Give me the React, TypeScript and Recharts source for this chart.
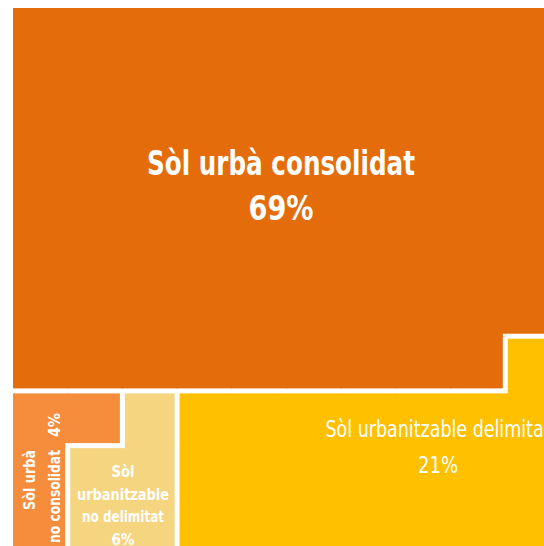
import { ScatterChart, Scatter, XAxis, YAxis } from 'recharts';

// land categories
const categoryKeys = ['C', 'N', 'U', 'D'];
const shares = [69, 4, 6, 21];
const colors = ['#E46C0A', '#F68D3C', '#F5D580', '#FFC000'];

// 10x10 waffle, one letter per square (C consolidat, N no consolidat,
// U urbanitzable no delimitat, D urbanitzable delimitat)
const gridRows = [
  'CCCCCCCCCC',
  'CCCCCCCCCC',
  'CCCCCCCCCC',
  'CCCCCCCCCC',
  'CCCCCCCCCC',
  'CCCCCCCCCC',
  'CCCCCCCCCD',
  'NNUDDDDDDD',
  'NUUDDDDDDD',
  'NUUDDDDDDD',
];

const CHART_W = 560;
const CHART_H = 555;
const MARGIN = { top: 8, right: 0, bottom: 0, left: 13 };
const CELL = (CHART_W - MARGIN.left - MARGIN.right) / 10;
const GAP = 5;
const FONT = "'Liberation Sans Narrow', 'DejaVu Sans Condensed', 'Noto Sans', sans-serif";

const colorOf = (k: string) => colors[categoryKeys.indexOf(k)];
const shareOf = (k: string) => shares[categoryKeys.indexOf(k)];

const cells = gridRows.flatMap((line, r) =>
  line.split('').map((k, c) => ({ col: c + 0.5, row: r + 0.5, r, c, k }))
);

// where each label sits, in grid units
const labelSpots: Record<string, { col: number; row: number }> = {
  C: { col: 4.9, row: 3.053 },
  D: { col: 7.77, row: 7.843 },
  U: { col: 2.011, row: 8.574 },
  N: { col: 0.402, row: 8.08 },
};
const labels = categoryKeys.map((k) => ({ ...labelSpots[k], k }));

function WaffleCell(props: any) {
  const { cx, cy, payload } = props;
  const { r, c, k } = payload;
  const at = (rr: number, cc: number) => gridRows[rr]?.[cc];
  const diff = (rr: number, cc: number) => {
    const o = at(rr, cc);
    return o !== undefined && o !== k;
  };
  const same = (rr: number, cc: number) => at(rr, cc) === k;
  const h = CELL / 2;
  const g = GAP / 2;
  const side = (rr: number, cc: number) => (diff(rr, cc) ? g : same(rr, cc) ? -0.5 : 0);
  const x1 = cx - h + side(r, c - 1);
  const x2 = cx + h - side(r, c + 1);
  const y1 = cy - h + side(r - 1, c);
  const y2 = cy + h - side(r + 1, c);
  // inner corners: only where both straight neighbours match but the diagonal one doesn't
  const corners = [
    [-1, -1],
    [-1, 1],
    [1, -1],
    [1, 1],
  ].filter(([dr, dc]) => diff(r + dr, c + dc) && !diff(r + dr, c) && !diff(r, c + dc));
  return (
    <g>
      <rect x={x1} y={y1} width={x2 - x1} height={y2 - y1} fill={colorOf(k)} />
      {corners.map(([dr, dc]) => (
        <rect
          key={`${dr}${dc}`}
          x={dc < 0 ? cx - h - 0.5 : cx + h - g}
          y={dr < 0 ? cy - h - 0.5 : cy + h - g}
          width={g + 0.5}
          height={g + 0.5}
          fill="#fff"
        />
      ))}
    </g>
  );
}

function LabelMark(props: any) {
  const { cx, cy, payload } = props;
  const k = payload.k;
  const pct = `${shareOf(k)}%`;
  const base = { fill: '#fff', fontFamily: FONT };
  if (k === 'C') {
    return (
      <g {...base} fontWeight="bold" fontSize={34} textAnchor="middle">
        <text x={cx} y={cy} textLength={268} lengthAdjust="spacingAndGlyphs">Sòl urbà consolidat</text>
        <text x={cx} y={cy + 45} textLength={65} lengthAdjust="spacingAndGlyphs">{pct}</text>
      </g>
    );
  }
  if (k === 'D') {
    return (
      <g {...base} fontSize={23} textAnchor="middle">
        <text x={cx} y={cy} textLength={225} lengthAdjust="spacingAndGlyphs">Sòl urbanitzable delimitat</text>
        <text x={cx} y={cy + 36} textLength={40} lengthAdjust="spacingAndGlyphs">{pct}</text>
      </g>
    );
  }
  if (k === 'U') {
    return (
      <g {...base} fontWeight="bold" fontSize={15} textAnchor="middle">
        <text x={cx} y={cy} textLength={23} lengthAdjust="spacingAndGlyphs">Sòl</text>
        <text x={cx} y={cy + 23} textLength={92} lengthAdjust="spacingAndGlyphs">urbanitzable</text>
        <text x={cx} y={cy + 45} textLength={82} lengthAdjust="spacingAndGlyphs">no delimitat</text>
        <text x={cx} y={cy + 68} textLength={23} lengthAdjust="spacingAndGlyphs">{pct}</text>
      </g>
    );
  }
  return (
    <g {...base} fontWeight="bold" fontSize={15}>
      <text transform={`translate(${cx},${cy}) rotate(-90)`} textAnchor="end" textLength={60} lengthAdjust="spacingAndGlyphs">
        Sòl urbà
      </text>
      <text transform={`translate(${cx + 25},${cy}) rotate(-90)`} textAnchor="end" textLength={93} lengthAdjust="spacingAndGlyphs">
        no consolidat
      </text>
      <text transform={`translate(${cx + 25},${cy - 13}) rotate(-90)`} textAnchor="start" textLength={24} lengthAdjust="spacingAndGlyphs">
        {pct}
      </text>
    </g>
  );
}

export default function App() {
  return (
    <div style={{ position: 'fixed', left: 0, top: 0, width: 544, height: 546, overflow: 'hidden', background: '#fff' }}>
      <ScatterChart width={CHART_W} height={CHART_H} margin={MARGIN}>
        <XAxis type="number" dataKey="col" domain={[0, 10]} hide />
        <YAxis type="number" dataKey="row" domain={[0, 10]} reversed hide />
        <Scatter data={cells} shape={<WaffleCell />} isAnimationActive={false} />
        <Scatter data={labels} shape={<LabelMark />} isAnimationActive={false} />
      </ScatterChart>
    </div>
  );
}
